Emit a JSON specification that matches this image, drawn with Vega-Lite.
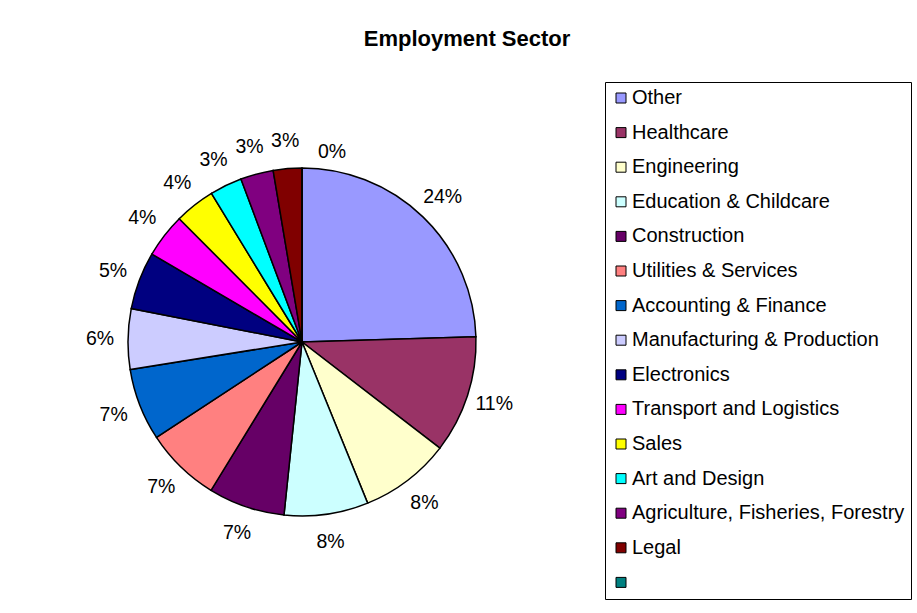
{
  "$schema": "https://vega.github.io/schema/vega-lite/v6.json",
  "width": 604,
  "height": 540,
  "autosize": {"type": "none"},
  "padding": {"left": 0, "top": 72, "right": 313, "bottom": 1},
  "background": "#ffffff",
  "config": {"view": {"stroke": null}},
  "title": {"text": "Employment Sector", "font": "Liberation Sans", "fontSize": 22, "fontWeight": "bold", "anchor": "middle", "dx": 165, "offset": 21, "color": "#000000"},
  "data": {"values": [
    {"idx": 0, "sector": "Other", "value": 24.5, "label": "24%"},
    {"idx": 1, "sector": "Healthcare", "value": 10.9, "label": "11%"},
    {"idx": 2, "sector": "Engineering", "value": 8.4, "label": "8%"},
    {"idx": 3, "sector": "Education & Childcare", "value": 7.8, "label": "8%"},
    {"idx": 4, "sector": "Construction", "value": 7.1, "label": "7%"},
    {"idx": 5, "sector": "Utilities & Services", "value": 7.0, "label": "7%"},
    {"idx": 6, "sector": "Accounting & Finance", "value": 6.7, "label": "7%"},
    {"idx": 7, "sector": "Manufacturing & Production", "value": 5.6, "label": "6%"},
    {"idx": 8, "sector": "Electronics", "value": 5.35, "label": "5%"},
    {"idx": 9, "sector": "Transport and Logistics", "value": 4.1, "label": "4%"},
    {"idx": 10, "sector": "Sales", "value": 3.75, "label": "4%"},
    {"idx": 11, "sector": "Art and Design", "value": 3.0, "label": "3%"},
    {"idx": 12, "sector": "Agriculture, Fisheries, Forestry", "value": 3.05, "label": "3%"},
    {"idx": 13, "sector": "Legal", "value": 2.65, "label": "3%"},
    {"idx": 14, "sector": " ", "value": 0, "label": "0%"}
  ]},
  "encoding": {
    "theta": {"field": "value", "type": "quantitative", "stack": true},
    "order": {"field": "idx", "type": "quantitative"}
  },
  "layer": [
    {
      "mark": {"type": "arc", "outerRadius": 174, "stroke": "#000000", "strokeWidth": 1.5},
      "encoding": {
        "color": {
          "field": "sector", "type": "nominal",
          "scale": {
            "domain": ["Other", "Healthcare", "Engineering", "Education & Childcare", "Construction", "Utilities & Services", "Accounting & Finance", "Manufacturing & Production", "Electronics", "Transport and Logistics", "Sales", "Art and Design", "Agriculture, Fisheries, Forestry", "Legal", " "],
            "range": ["#9999FF", "#993366", "#FFFFCC", "#CCFFFF", "#660066", "#FF8080", "#0066CC", "#CCCCFF", "#000080", "#FF00FF", "#FFFF00", "#00FFFF", "#800080", "#800000", "#008080"]
          },
          "legend": {
            "title": null, "orient": "none", "legendX": 605, "legendY": 10, "direction": "vertical", "columns": 1,
            "padding": 6, "strokeColor": "#000000", "fillColor": "#ffffff", "cornerRadius": 0,
            "symbolType": "square", "symbolSize": 100, "symbolStrokeColor": "#000000", "symbolStrokeWidth": 1, "symbolOpacity": 1,
            "labelFont": "Liberation Sans", "labelFontSize": 20, "labelColor": "#000000", "labelOffset": 1, "rowPadding": 14.6, "labelLimit": 400
          }
        }
      }
    },
    {
      "transform": [{"filter": "datum.value > 0"}],
      "mark": {"type": "text", "radius": 202, "font": "Liberation Sans", "fontSize": 19.5, "color": "#000000", "align": "center", "baseline": "middle"},
      "encoding": {"text": {"field": "label", "type": "nominal"}}
    },
    {
      "transform": [{"filter": "datum.value == 0"}],
      "mark": {"type": "text", "radius": 190, "font": "Liberation Sans", "fontSize": 19.5, "color": "#000000", "align": "left", "baseline": "middle", "dx": 16},
      "encoding": {"text": {"field": "label", "type": "nominal"}}
    }
  ]
}
